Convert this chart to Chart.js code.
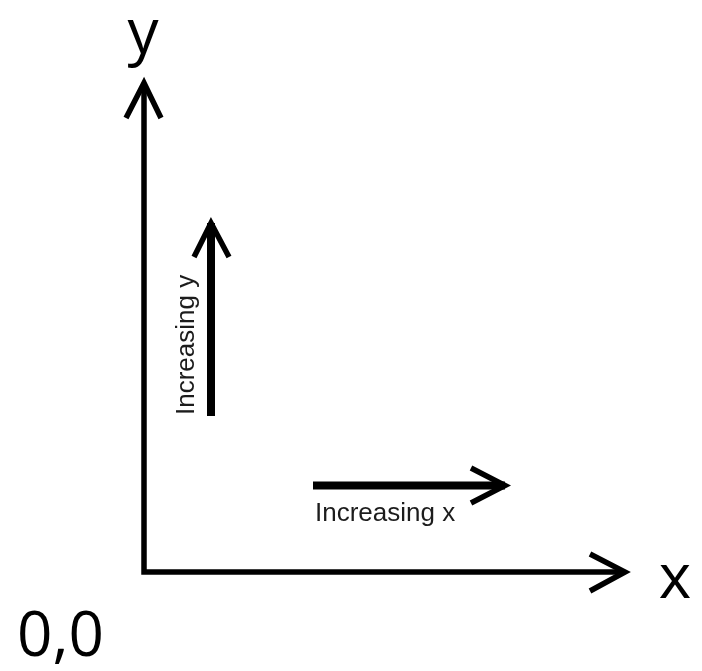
<!DOCTYPE html>
<html>
<head>
<meta charset="utf-8">
<script src="https://cdn.jsdelivr.net/npm/chart.js@4"></script>
<style>
  html, body { margin: 0; padding: 0; background: #fff; }
  #diagram { display: block; }
</style>
</head>
<body>
<canvas id="diagram" width="702" height="671"></canvas>
<script>
;(function(){
  // coordinates in diagram units, origin = the "0,0" corner, y grows upward
  const axesLine = [{x: 0, y: 489}, {x: 0, y: 0}, {x: 481, y: 0}]
  const yAxisHead = [{x: -18, y: 454}, {x: 0, y: 489}, {x: 17, y: 454}]
  const xAxisHead = [{x: 446, y: 18}, {x: 481, y: 0}, {x: 446, y: -19}]

  const incYStem = [{x: 67, y: 156}, {x: 67, y: 349}]
  const incYHead = [{x: 50, y: 315}, {x: 67, y: 349}, {x: 85, y: 315}]
  const incXStem = [{x: 169, y: 86.5}, {x: 361, y: 86.5}]
  const incXHead = [{x: 327, y: 104}, {x: 361, y: 86.5}, {x: 327, y: 69}]

  // text labels and where they sit (diagram units)
  const labelTexts = ['y', 'x', '0,0', 'Increasing x', 'Increasing y']
  const labelAnchors = [
    {x: -1, y: 519}, {x: 531, y: -26}, {x: -127, y: -84},
    {x: 171, y: 51}, {x: 50, y: 157}
  ]

  const line = (data, width) => ({
    data: data,
    showLine: true,
    borderColor: '#000',
    borderWidth: width,
    borderJoinStyle: 'miter',
    borderCapStyle: 'butt',
    pointRadius: 0,
    fill: false,
    tension: 0,
  })

  const labelPlugin = {
    id: 'labels',
    afterDatasetsDraw(chart) {
      const ctx = chart.ctx
      const sx = chart.scales.x, sy = chart.scales.y
      const big = '62px "Open Sans", "Noto Sans", sans-serif'
      const small = '26px "Liberation Sans", Arial, sans-serif'
      const styles = [
        {font: big, align: 'center', rot: 0, color: '#000'},
        {font: big, align: 'center', rot: 0, color: '#000'},
        {font: big, align: 'left', rot: 0, color: '#000'},
        {font: small, align: 'left', rot: 0, color: '#1c1c1c'},
        {font: small, align: 'left', rot: -Math.PI / 2, color: '#1c1c1c'},
      ]
      labelTexts.forEach((t, i) => {
        const st = styles[i]
        ctx.save()
        ctx.translate(sx.getPixelForValue(labelAnchors[i].x), sy.getPixelForValue(labelAnchors[i].y))
        ctx.rotate(st.rot)
        ctx.font = st.font
        ctx.fillStyle = st.color
        ctx.textAlign = st.align
        ctx.textBaseline = 'alphabetic'
        ctx.fillText(t, 0, 0)
        ctx.restore()
      })
    }
  }

  const config = {
    type: 'scatter',
    data: {
      datasets: [
        line(axesLine, 5.5),
        line(yAxisHead, 5.5),
        line(xAxisHead, 5.5),
        line(incYStem, 8),
        line(incYHead, 5.5),
        line(incXStem, 8),
        line(incXHead, 5.5),
      ],
    },
    options: {
      responsive: false,
      animation: false,
      layout: { padding: 0 },
      plugins: {
        legend: { display: false },
        tooltip: { enabled: false },
      },
      events: [],
      scales: {
        x: { type: 'linear', display: false, min: -144, max: 558 },
        y: { type: 'linear', display: false, min: -99, max: 572 },
      },
    },
    plugins: [labelPlugin],
  }

  new Chart(document.getElementById('diagram'), config)
})()
</script>
</body>
</html>
